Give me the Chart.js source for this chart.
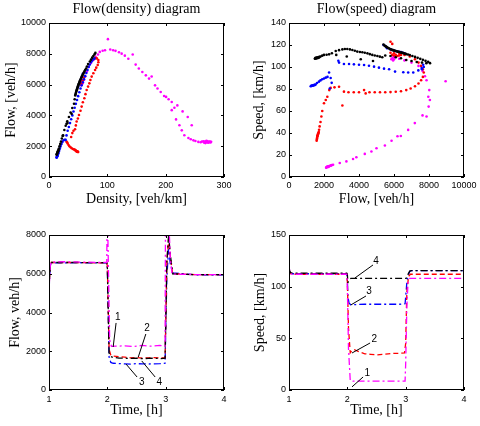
<!DOCTYPE html>
<html><head><meta charset="utf-8">
<script src="https://cdn.jsdelivr.net/npm/chart.js@4.4.0/dist/chart.umd.min.js"></script>
<style>
html,body{margin:0;padding:0;background:#fff;}
#wrap{position:relative;width:480px;height:426px;overflow:hidden;background:#fff;}
canvas{position:absolute;}
</style></head><body>
<div id="wrap">
<canvas id="c1" width="240" height="210" style="left:0;top:0"></canvas>
<canvas id="c2" width="240" height="210" style="left:240px;top:0"></canvas>
<canvas id="c3" width="240" height="216" style="left:0;top:210px"></canvas>
<canvas id="c4" width="240" height="216" style="left:240px;top:210px"></canvas>
</div>
<script>
// ---------- Flow(density) diagram ----------
const fdTicksX = [0,100,200,300];
const fdTicksY = [0,2000,4000,6000,8000,10000];
const fdDensBlack = [13,13.4,13.8,14.2,14.6,15,15.4,15.8,16.3,17,18,19.3,20.6,22,23.3,24.3,26.3,28.6,30,31.3,31.8,34.2,37,38.7,39.9,42.9,44,45,45.5,46,46.5,47,47.5,48,48.5,49,49.5,50,50.5,51,51.5,52,52.5,53,54,55,56,57,58,59,60,61,62,63.6,65,67,70,72,74,76,78,79.5];
const fdFlowBlack = [1450,1480,1520,1560,1600,1640,1680,1720,1760,1850,2000,2150,2300,2500,2670,2700,3050,3330,3450,3620,3500,3900,4190,4100,4480,4760,5050,5300,5380,5450,5520,5580,5640,5700,5760,5820,5880,5940,5990,6040,6090,6140,6190,6240,6330,6420,6500,6580,6650,6720,6800,6880,6950,7050,7180,7330,7500,7620,7750,7860,7960,8060];
const fdDensBlue = [13,13.3,13.6,14,14.3,14.6,15,15.5,16,17,18,19,20,21.5,23,25,27,28.5,30,32,34,36,38,40,42,44,46,48,50,52,54,56,58,60,62,64,66,68,70,72,74,76,78,50,52,54,56,58];
const fdFlowBlue = [1250,1280,1310,1340,1370,1400,1440,1490,1550,1650,1780,1900,2020,2150,2280,2380,2420,2410,2700,3000,3250,3500,3750,4000,4250,4500,4750,5000,5250,5500,5750,5950,6150,6350,6550,6750,6950,7150,7300,7450,7550,7650,7700,5900,6100,6300,6500,6700];
const fdDensRed = [44,45,46,46.5,47,47.5,48,48.5,49,49.5,50,30,31,32,33.5,35,37,39,41,43,38,40,42,44.6,46,47.4,49.5,51.4,54,56,58,60.6,62.5,64.6,67,69.2,71,73.2,76,79,81,83.5,84.6,84.6,82,80,78,76,55,56,57,58,60];
const fdFlowRed = [1780,1740,1710,1690,1680,1670,1660,1650,1640,1630,1620,2300,2250,2180,2080,2000,1930,1870,1820,1790,2600,2850,3000,3100,3350,3600,3800,4030,4300,4570,4850,5110,5380,5650,5870,6080,6300,6520,6740,6950,7100,7270,7450,7600,7700,7720,7700,7650,6000,6100,6200,6300,6450];
const fdDensMag = [55,56,57,58,60,62,65,68,72,76,80,84,87,92,96,101,105,110,114,120,124.6,130,136,143.5,148.6,154,160,166,171.5,176,181.8,186,191.5,197.3,200.7,205,210.4,210.4,215,220,217.8,223.6,229,227.6,232,237.8,239,244.7,243,247.6,251,256,260,262,264.7,266,267,268,269,270,271,272,273,274,275,276,277,278,270,268,272,266];
const fdFlowMag = [5950,6000,6050,6100,6300,6550,6850,7150,7400,7600,7800,7950,8125,8200,8230,8950,8280,8230,8190,8100,8010,7880,7680,7950,7300,7050,6820,6600,6390,6530,5950,5750,5520,5260,5200,5050,4870,4340,4500,4650,3740,3360,4260,3030,2710,3900,2530,3360,2450,2380,2340,2280,2260,2300,2320,2250,2290,2300,2280,2250,2320,2270,2230,2300,2260,2310,2240,2290,2350,2200,2280,2240];

// ---------- Flow(speed) diagram ----------
const fsTicksX = [0,2000,4000,6000,8000,10000];
const fsTicksY = [0,20,40,60,80,100,120,140];
const fsFlowBlack = [1480,1500,1520,1540,1560,1580,1600,1620,1640,1660,1680,1700,1720,1750,1800,1900,2000,2150,2290,2450,2670,2860,3050,3190,3330,3480,3620,3760,3900,4050,4190,4330,4480,4620,4760,4900,5050,5190,5330,5500,5800,6100,6400,6700,7000,7300,7600,7850,2700,3300,4100,4800,5400,5450,5500,5550,5600,5650,5700,5750,5800,5850,5900,5950,6000,6050,6100,6150,6200,6250,6300,6350,6400,6450,6500,6550,6600,6650,6700,6800,6900,7050,7200,7350,7500,7650,7800,7950,8060];
const fsSpeedBlack = [107.5,108,108.3,107.8,108.2,108.5,108,108.4,108.6,108.2,108.8,109,108.6,109.3,109.6,110.3,111,111.2,111.5,112.5,114.5,115.3,116,116.3,116.4,116,115.5,114.8,114,113.7,113.4,112.9,112.4,111.7,111,110.5,110,109.4,108.8,110.5,110,108.8,108,106.4,105.5,104.5,104,103.5,111,109.5,107,105.5,120.5,119.5,119,118.5,118,117.5,117,116.6,116.2,115.8,115.5,115.3,115,114.8,114.6,114.3,114,113.8,113.6,113.4,113.2,113,112.8,112.5,112.2,112,111.7,111.4,110.8,110,109.2,108.3,107.4,106.5,105.6,104.7,103.5];
const fsFlowBlue = [1240,1270,1300,1330,1360,1390,1420,1450,1480,1520,1600,1710,1800,1900,2000,2100,2200,2290,2380,2440,2330,2820,2860,3140,3430,3710,4000,4290,4570,4860,5140,5430,5720,6060,6530,6810,7100,7390,7580,7670,7700,7600,5400,5500,5600,5800,5900,6000,6100,6200,6300,6400,6500,6600];
const fsSpeedBlue = [82.5,82.8,83,83.2,83,83.4,83.6,83.5,83.8,84,85.5,86.7,87.8,88.8,89.5,90.3,91,95,90,85.6,80.4,105.7,104,102.7,102.7,102.4,102,101.8,101.2,100.3,99.4,98.5,97.9,95.8,95.2,95,95,96.9,99,102,100,98,120,119,117,116,115.5,115,114.5,114,113.8,113.5,113,112.5];
const fsFlowRed = [1580,1590,1600,1610,1620,1630,1640,1650,1660,1670,1680,1700,1720,1750,1800,1850,1900,2000,2100,2190,2300,2380,2600,2860,3050,3140,3400,3700,4000,4290,4380,4600,4900,5200,5500,5800,6100,6400,6700,6950,7200,7400,7550,7650,7700,7650,7550,7400,7200,6900,6600,6300,6000,5800,5900,6000,6100,6200,6300,6400,5800,5900];
const fsSpeedRed = [33,34,35,36,37,37.5,38,38.5,39,39.5,40,41,43,46,50,55,60,67,70,73,79,81,81.5,82,65,77.6,77,77,77,79,76,77,77,77,77,77.2,77.5,78,79,80.5,82.5,85,88,91,95,98,101,104,107,109.5,111,112,112.5,113,111,110.5,111,110,110.5,111,123,121];
const fsFlowMag = [5850,5900,5950,6000,6050,6100,5950,6000,6300,6600,7000,7400,7630,7770,7860,8015,8050,7980,7960,7630,7860,7190,6810,6390,6200,5860,5480,5000,4710,4330,3850,3660,3280,2900,2520,2450,2400,2350,2300,2250,2200,2180,2160,2140,2120,2300,2400,2250,8950];
const fsSpeedMag = [107,108,108.5,109,110,109,106,107,107.5,106,104,101,96.4,91.6,88,79,70,64,72.9,56,55,49,42.8,37.3,37,33,28.6,26.2,23.2,21,18,16.3,14.2,12.7,11.1,10.8,10.5,10.2,10,9.7,9.4,9.2,9,8.7,8.5,9.8,10.4,9.2,87];

// ---------- Flow vs time ----------
const timeTicks = [1,2,3,4];
const flowTicksY = [0,2000,4000,6000,8000];
const flowTimeMag = [1.0,1.004,1.02,1.04,1.3,1.6,1.99,1.997,2.003,2.04,2.07,2.15,2.3,2.45,2.6,2.75,2.9,2.99,2.997,3.05,3.08,3.11,3.5,4.0];
const flowValMag  = [0,5400,6350,6600,6620,6600,6580,9000,9000,2600,2250,2260,2280,2250,2300,2260,2300,2260,9000,9000,6800,5980,5960,5950];
const flowTimeRed = [1.0,1.005,1.02,1.04,1.5,1.99,2.0,2.03,2.06,2.1,2.2,2.3,2.4,2.5,2.6,2.7,2.8,2.9,2.99,3.02,3.05,3.08,3.12,3.5,4.0];
const flowValRed  = [5300,5500,6400,6580,6580,6560,6400,2100,1800,1750,1720,1700,1660,1680,1650,1660,1670,1650,1660,6500,7800,6900,6000,5960,5950];
const flowTimeBlue = [1.0,1.005,1.02,1.04,1.5,1.99,2.0,2.03,2.06,2.1,2.2,2.3,2.4,2.5,2.6,2.7,2.8,2.9,2.99,3.02,3.05,3.08,3.12,3.5,4.0];
const flowValBlue  = [5200,5400,6350,6560,6570,6560,6300,1700,1420,1380,1360,1350,1340,1360,1350,1340,1350,1360,1380,5800,7300,6500,6050,5950,5940];
const flowTimeBlack = [1.0,1.005,1.02,1.04,1.5,1.99,2.0,2.03,2.06,2.1,2.2,2.3,2.4,2.5,2.6,2.7,2.8,2.9,2.99,3.02,3.05,3.08,3.12,3.5,4.0];
const flowValBlack  = [5300,5500,6400,6580,6580,6570,6450,1900,1720,1680,1650,1640,1630,1640,1620,1630,1640,1620,1640,6600,8000,7000,6000,5950,5950];
const flowLabels = ['1','2','3','4'];
const flowLabelT = [2.18,2.68,2.59,2.89];
const flowLabelV = [3770,3200,410,410];
const flowLeadT0 = [2.15,2.66,2.51,2.82];
const flowLeadV0 = [3460,2890,670,670];
const flowLeadT1 = [2.10,2.53,2.32,2.59];
const flowLeadV1 = [2220,1700,1340,1500];

// ---------- Speed vs time ----------
const speedTicksY = [0,50,100,150];
const spTimeMag = [1.0,1.01,1.03,1.06,1.5,1.99,2.0,2.02,2.05,2.1,2.3,2.5,2.7,2.9,2.99,3.0,3.02,3.04,3.07,3.5,4.0];
const spValMag  = [122,115,112.5,112,112,112,100,40,9,8.5,8.5,8.5,8.5,8.5,8.7,25,80,104,108,108,108];
const spTimeRed = [1.0,1.01,1.03,1.06,1.5,1.99,2.0,2.02,2.05,2.08,2.12,2.2,2.3,2.4,2.5,2.6,2.7,2.8,2.9,2.98,3.0,3.02,3.05,3.08,3.5,4.0];
const spValRed  = [124,115,112.5,112,112,112,105,60,36,38,39,37,35,34.5,34,34.5,35,35.5,35.5,36,45,95,110,112,112,112];
const spTimeBlue = [1.0,1.01,1.03,1.06,1.5,1.99,2.0,2.01,2.03,2.06,2.3,2.6,2.9,2.99,3.0,3.02,3.04,3.07,3.1,3.5,4.0];
const spValBlue  = [121,115,113,112.5,112.5,112.5,108,90,84,82.5,83,83,83,83.5,90,104,110,115,115.5,115.5,115.5];
const spTimeBlack = [1.0,1.01,1.03,1.06,1.5,1.99,2.0,2.01,2.03,2.06,2.3,2.6,2.9,2.99,3.01,3.04,3.07,3.1,3.5,4.0];
const spValBlack  = [118,115,113.5,113,113,113,112,104,106,108,108,108,108,108,108,112,115,115.5,115.5,115.5];
const speedLabels = ['4','3','2','1'];
const speedLabelT = [2.49,2.37,2.46,2.34];
const speedLabelV = [125,95.8,49.4,16.5];
const speedLeadT0 = [2.44,2.32,2.39,2.27];
const speedLeadV0 = [121,91,45.5,12.6];
const speedLeadT1 = [2.13,2.06,2.08,2.08];
const speedLeadV1 = [108.4,82.3,35.8,3];

const SANS = '"Liberation Sans", Arial, sans-serif';
const SERIF = '"Liberation Serif", "Times New Roman", serif';
const C = {m:'#ff00ff', r:'#ff0000', b:'#0000ff', k:'#000000'};
const DASHDOT = [7,3,2,3];
const DASH = [5,3];

function pts(xs, ys){ return xs.map((x,i)=>({x:x, y:ys[i]})); }
function dots(xs, ys, c){
  return {data:pts(xs,ys), showLine:false, pointRadius:1.3, pointHoverRadius:0,
          pointBorderWidth:0, pointBackgroundColor:c, borderColor:c, backgroundColor:c};
}
function line(xs, ys, c, dash){
  return {data:pts(xs,ys), showLine:true, pointRadius:0, pointHoverRadius:0,
          borderColor:c, backgroundColor:c, borderWidth:1.3, borderDash:dash, tension:0, fill:false};
}

function makeChart(id, o){
  const frame = {
    id:'frame'+id,
    afterDatasetsDraw(chart){
      const ctx = chart.ctx, a = chart.chartArea, sx = chart.scales.x, sy = chart.scales.y;
      ctx.save();
      ctx.strokeStyle = '#000'; ctx.lineWidth = 1; ctx.setLineDash([]);
      ctx.beginPath();
      o.xTicks.forEach(v=>{
        const p = Math.round(sx.getPixelForValue(v))+0.5;
        ctx.moveTo(p, a.bottom); ctx.lineTo(p, a.bottom-3);
        ctx.moveTo(p, a.top); ctx.lineTo(p, a.top+3);
      });
      o.yTicks.forEach(v=>{
        const p = Math.round(sy.getPixelForValue(v))+0.5;
        ctx.moveTo(a.left, p); ctx.lineTo(a.left+3, p);
        ctx.moveTo(a.right, p); ctx.lineTo(a.right-3, p);
      });
      ctx.stroke();
      ctx.strokeRect(a.left+0.5, a.top+0.5, a.right-a.left-1, a.bottom-a.top-1);
      if (o.labels){
        const L = o.labels;
        ctx.beginPath();
        L.text.forEach((t,i)=>{
          ctx.moveTo(sx.getPixelForValue(L.t0[i]), sy.getPixelForValue(L.v0[i]));
          ctx.lineTo(sx.getPixelForValue(L.t1[i]), sy.getPixelForValue(L.v1[i]));
        });
        ctx.stroke();
        ctx.fillStyle = '#000';
        ctx.font = '10px ' + SANS;
        ctx.textAlign = 'center'; ctx.textBaseline = 'middle';
        L.text.forEach((t,i)=>{
          ctx.fillText(t, sx.getPixelForValue(L.t[i]), sy.getPixelForValue(L.v[i]));
        });
      }
      ctx.restore();
    }
  };
  return new Chart(document.getElementById(id), {
    type:'scatter',
    data:{datasets:o.datasets},
    options:{
      responsive:false, animation:false, devicePixelRatio:1, events:[],
      layout:{padding:{left:0,right:16,top:0,bottom:0}},
      plugins:{legend:{display:false}, tooltip:{enabled:false}, title:{display:false}},
      scales:{
        x:{type:'linear', position:'bottom', min:o.xMin, max:o.xMax,
           afterBuildTicks:s=>{ s.ticks = o.xTicks.map(v=>({value:v})); },
           afterFit:s=>{ s.height = o.bottomH; },
           grid:{display:false, drawTicks:false}, border:{display:false},
           ticks:{padding:o.xTickPad, color:'#000', font:{size:9, family:SANS}, maxRotation:0, autoSkip:false, callback:v=>String(v)},
           title:{display:true, text:o.xTitle, color:'#000', font:{size:14, family:SERIF}, padding:{top:0, bottom:o.xTitlePad}}},
        x2:{type:'linear', position:'top', min:0, max:1,
           afterFit:s=>{ s.height = o.topH; },
           grid:{display:false, drawTicks:false}, border:{display:false}, ticks:{display:false},
           title:{display:!!o.title, text:o.title||'', color:'#000', font:{size:14, family:SERIF}, padding:{top:1, bottom:0}}},
        y:{type:'linear', position:'left', min:o.yMin, max:o.yMax,
           afterBuildTicks:s=>{ s.ticks = o.yTicks.map(v=>({value:v})); },
           afterFit:s=>{ s.width = 49; },
           grid:{display:false, drawTicks:false}, border:{display:false},
           ticks:{padding:3, color:'#000', font:{size:9, family:SANS}, autoSkip:false, callback:v=>String(v)},
           title:{display:true, text:o.yTitle, color:'#000', font:{size:14, family:SERIF}, padding:{top:o.yTitlePad, bottom:0}}}
      }
    },
    plugins:[frame]
  });
}

makeChart('c1', {
  title:'Flow(density) diagram', xTitle:'Density, [veh/km]', yTitle:'Flow, [veh/h]',
  xMin:0, xMax:300, yMin:0, yMax:10000, xTicks:fdTicksX, yTicks:fdTicksY,
  topH:23, bottomH:33, xTickPad:3, xTitlePad:2, yTitlePad:2.6,
  datasets:[
    dots(fdDensBlack, fdFlowBlack, C.k),
    dots(fdDensBlue, fdFlowBlue, C.b),
    dots(fdDensRed, fdFlowRed, C.r),
    dots(fdDensMag, fdFlowMag, C.m)
  ]
});
makeChart('c2', {
  title:'Flow(speed) diagram', xTitle:'Flow, [veh/h]', yTitle:'Speed, [km/h]',
  xMin:0, xMax:10000, yMin:0, yMax:140, xTicks:fsTicksX, yTicks:fsTicksY,
  topH:23, bottomH:33, xTickPad:3, xTitlePad:2, yTitlePad:11,
  datasets:[
    dots(fsFlowBlack, fsSpeedBlack, C.k),
    dots(fsFlowBlue, fsSpeedBlue, C.b),
    dots(fsFlowRed, fsSpeedRed, C.r),
    dots(fsFlowMag, fsSpeedMag, C.m)
  ]
});
makeChart('c3', {
  title:'', xTitle:'Time, [h]', yTitle:'Flow, veh/h]',
  xMin:1, xMax:4, yMin:0, yMax:8000, xTicks:timeTicks, yTicks:flowTicksY,
  topH:25, bottomH:36, xTickPad:4, xTitlePad:7, yTitlePad:6.6,
  labels:{text:flowLabels, t:flowLabelT, v:flowLabelV, t0:flowLeadT0, v0:flowLeadV0, t1:flowLeadT1, v1:flowLeadV1},
  datasets:[
    line(flowTimeMag, flowValMag, C.m, DASHDOT),
    line(flowTimeBlack, flowValBlack, C.k, DASHDOT),
    line(flowTimeRed, flowValRed, C.r, DASH),
    line(flowTimeBlue, flowValBlue, C.b, DASHDOT)
  ]
});
makeChart('c4', {
  title:'', xTitle:'Time, [h]', yTitle:'Speed, [km/h]',
  xMin:1, xMax:4, yMin:0, yMax:150, xTicks:timeTicks, yTicks:speedTicksY,
  topH:25, bottomH:36, xTickPad:4, xTitlePad:7, yTitlePad:11.6,
  labels:{text:speedLabels, t:speedLabelT, v:speedLabelV, t0:speedLeadT0, v0:speedLeadV0, t1:speedLeadT1, v1:speedLeadV1},
  datasets:[
    line(spTimeMag, spValMag, C.m, DASHDOT),
    line(spTimeBlack, spValBlack, C.k, DASHDOT),
    line(spTimeRed, spValRed, C.r, DASH),
    line(spTimeBlue, spValBlue, C.b, DASHDOT)
  ]
});
</script>
</body></html>
